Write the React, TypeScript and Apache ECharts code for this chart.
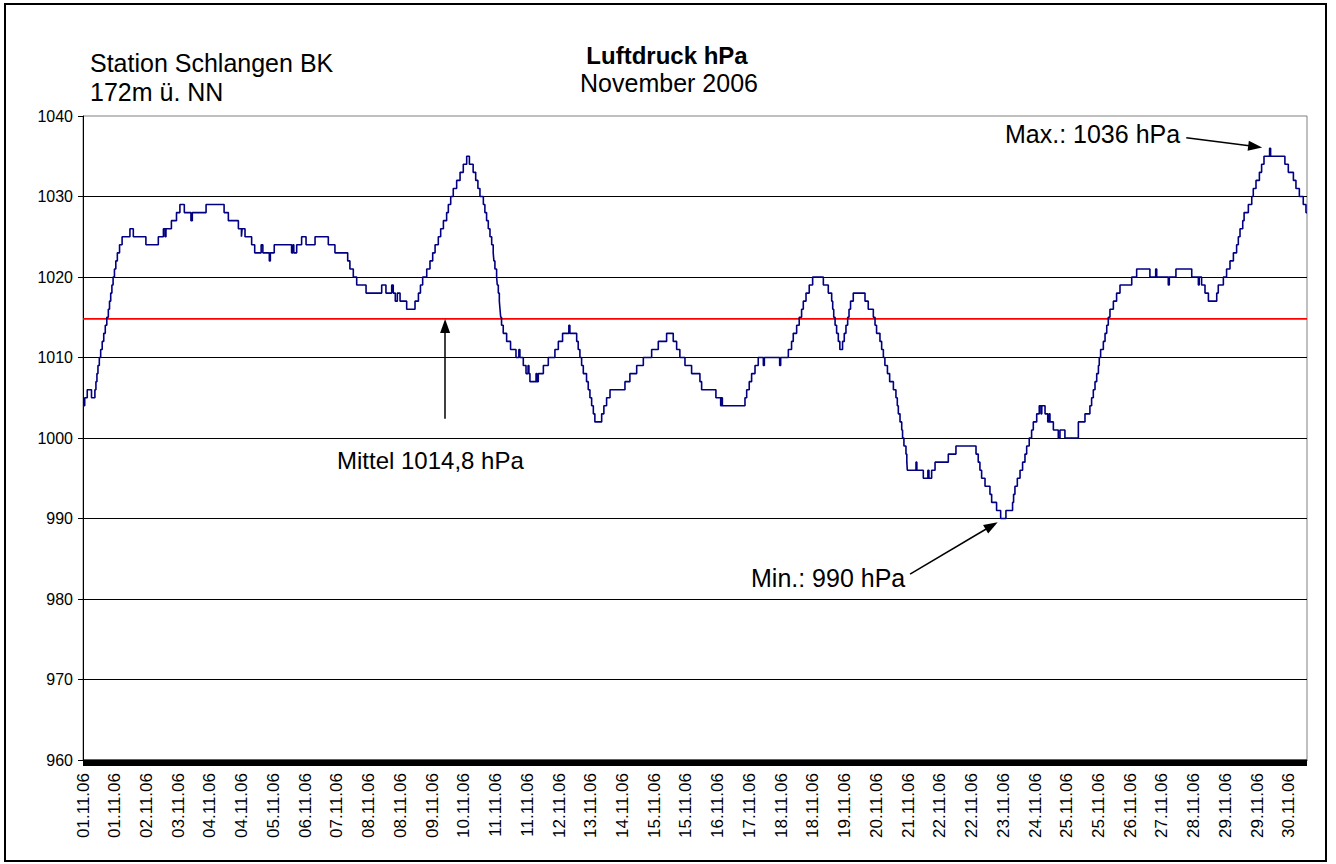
import React, { useEffect, useRef } from "react";
import * as echarts from "echarts";

// Hour of month (0 = 01.11.06 00:00) at which each pressure value begins, and the value (hPa)
const runHour = [
  0, 1, 2.5, 5, 7, 7.6, 8.2, 8.8, 9.6, 10.4, 11.3, 12.2, 13.1, 14, 14.9, 15.6, 16.3, 17, 17.7, 18.5, 19.3, 20.2, 21.5, 23,
  27.6, 29.6, 37, 44.3, 47.3, 48.3, 48.8, 52, 55, 57, 59.6, 63.5, 64.3, 72.4, 83, 85.5, 91.4, 93.2, 93.6, 95.3, 99.2, 101,
  104.8, 105.8, 109.6, 110.2, 112.5, 122.7, 123.5, 124, 125.7, 128.6, 131.2, 136.5, 144.3, 148.2, 155.7, 157, 159, 161,
  166.5, 175.7, 178.2, 181.6, 182.5, 183.7, 184.9, 186.5, 190.4, 195.3, 197.3, 198.5, 199.8, 202.2, 204.1, 205.7, 207.1,
  209, 210.4, 212, 213.9, 214.9, 216.3, 217.8, 219.8, 221.8, 223.7, 225.7, 227.3, 229.5, 231, 232.3, 233.5, 235.5, 236.4,
  237.4, 238.4, 239.4, 240.4, 241.3, 241.7, 242.3, 243.3, 243.7, 244.3, 244.9, 245.3, 245.7, 246.2, 247.2, 249.2, 251.5,
  254.7, 256.4, 257, 259, 260.6, 261.8, 262.3, 262.9, 266.5, 267, 267.8, 270.8, 273.7, 277.6, 279.6, 282.1, 285.8, 286.4,
  290.4, 291.3, 292.3, 293.3, 294.3, 296.2, 297.2, 298.2, 299.2, 300.2, 301.1, 305.1, 306.4, 308, 310, 318.8, 321.7, 325.7,
  329.6, 334.5, 338.4, 343.3, 347.2, 349.2, 351.1, 354.1, 358, 362.9, 363.9, 372.3, 375.1, 375.6, 376.1, 389.4, 390.4,
  391.9, 393.3, 395.3, 397.2, 400.2, 400.8, 409.8, 410.4, 414.9, 416.8, 417.8, 419.8, 421.3, 422.7, 423.7, 425.3, 427.2,
  429.2, 435.5, 438.4, 440.4, 441, 441.6, 442.4, 443.3, 444.3, 445.2, 446.8, 447.8, 448.8, 449.8, 450.6, 451.5, 453.1, 460,
  461.9, 464.9, 465.9, 466.8, 468.8, 469.8, 470.8, 471.7, 473.2, 474.5, 476.7, 478.2, 479, 479.6, 480.6, 481.6, 482.1,
  482.9, 484.1, 484.6, 484.9, 490, 490.5, 494.3, 497, 497.6, 499.2, 501.2, 509, 513.5, 525.3, 526.6, 527.6, 528.6, 530.6,
  533.5, 534.5, 537.4, 539.8, 542.9, 546.8, 547.4, 548.2, 549.6, 551.2, 552.7, 554.1, 555.1, 556.6, 558, 559, 561, 562.5,
  563.5, 564, 565.9, 567.5, 568.3, 568.8, 570.8, 573.7, 574.7, 577.6, 585.5, 589.4, 592.3, 593.3, 594.3, 595.3, 596.3,
  597.3, 597.8, 598.6, 600.2, 601.2, 602.2, 603.1, 604.1, 606.1, 608, 610, 616.9, 619.8, 627.6, 631, 631.6, 638.4, 639,
  642.9, 652.2, 656.1, 656.6, 658, 660, 662, 666.9, 667.8, 670.8, 672.7, 674.7, 676.7, 678.6, 679.6, 680.6, 682.2, 683,
  685.5, 687.5, 688.4, 690, 692, 693.3, 694.7, 698, 698.6, 707, 709, 712, 713.5, 715.5, 717.8, 719.4, 720,
];
const runValue = [
  1004, 1005, 1006, 1005, 1006, 1007, 1008, 1009, 1010, 1011, 1012, 1013, 1014, 1015, 1016, 1017, 1018, 1019, 1020, 1021, 1022, 1023, 1024, 1025,
  1026, 1025, 1024, 1025, 1026, 1025, 1026, 1027, 1028, 1029, 1028, 1027, 1028, 1029, 1028, 1027, 1026, 1025, 1026, 1025, 1024, 1023,
  1024, 1023, 1022, 1023, 1024, 1023, 1024, 1023, 1024, 1025, 1024, 1025, 1024, 1023, 1022, 1021, 1020, 1019,
  1018, 1019, 1018, 1019, 1018, 1017, 1018, 1017, 1016, 1017, 1018, 1019, 1020, 1021, 1022, 1023, 1024,
  1025, 1026, 1027, 1028, 1029, 1030, 1031, 1032, 1033, 1034, 1035, 1034, 1033, 1032, 1031, 1030, 1029, 1028,
  1027, 1026, 1025, 1024, 1023, 1022, 1021, 1020, 1019, 1018, 1017, 1016, 1015, 1014, 1013, 1012, 1011,
  1010, 1011, 1010, 1009, 1008, 1009, 1008, 1007, 1008, 1007, 1008, 1009, 1010, 1011, 1012, 1013, 1014, 1013,
  1012, 1011, 1010, 1009, 1008, 1007, 1006, 1005, 1004, 1003, 1002, 1003, 1004, 1005, 1006, 1007, 1008, 1009,
  1010, 1011, 1012, 1013, 1012, 1011, 1010, 1009, 1008, 1007, 1006, 1005, 1004, 1005, 1004, 1005, 1006,
  1007, 1008, 1009, 1010, 1009, 1010, 1009, 1010, 1011, 1012, 1013, 1014, 1015, 1016, 1017, 1018, 1019,
  1020, 1019, 1018, 1017, 1016, 1015, 1014, 1013, 1012, 1011, 1012, 1013, 1014, 1015, 1016, 1017, 1018, 1017,
  1016, 1015, 1014, 1013, 1012, 1011, 1010, 1009, 1008, 1007, 1006, 1005, 1004, 1003, 1002, 1001, 1000,
  999, 998, 997, 996, 997, 996, 995, 996, 995, 996, 997, 998, 999, 998, 997, 996, 995, 994,
  993, 992, 991, 990, 991, 992, 993, 994, 995, 996, 997, 998, 999, 1000, 1001, 1002, 1003, 1004,
  1003, 1004, 1003, 1002, 1003, 1002, 1001, 1000, 1001, 1000, 1002, 1003, 1004, 1005, 1006, 1007, 1008,
  1009, 1010, 1011, 1012, 1013, 1014, 1015, 1016, 1017, 1018, 1019, 1020, 1021, 1020, 1021, 1020, 1019, 1020,
  1021, 1020, 1019, 1020, 1019, 1018, 1017, 1018, 1019, 1020, 1021, 1022, 1023, 1024, 1025, 1026, 1027, 1028,
  1029, 1030, 1031, 1032, 1033, 1034, 1035, 1036, 1035, 1034, 1033, 1032, 1031, 1030, 1029, 1028, 1028,
];

// Tick labels along the time axis (one every 18 h 40 min)
const dateLabels = [
  "01.11.06", "01.11.06", "02.11.06", "03.11.06", "04.11.06", "04.11.06", "05.11.06", "06.11.06", "07.11.06",
  "08.11.06", "08.11.06", "09.11.06", "10.11.06", "11.11.06", "11.11.06", "12.11.06", "13.11.06", "14.11.06",
  "15.11.06", "15.11.06", "16.11.06", "17.11.06", "18.11.06", "18.11.06", "19.11.06", "20.11.06", "21.11.06",
  "22.11.06", "22.11.06", "23.11.06", "24.11.06", "25.11.06", "25.11.06", "26.11.06", "27.11.06", "28.11.06",
  "29.11.06", "29.11.06", "30.11.06",
];
const LABEL_STEP = 56 / 3; // hours between tick labels
const HOURS = 720;

const MEAN = 1014.8;
const MIN_VALUE = 990;
const MAX_VALUE = 1036;
// annotation arrows: [tail hour, tail value] -> [tip hour, tip value]
const meanArrow = [[213, 1002.4], [213, MEAN - 0.9]];
const minArrow = [[486.5, 983.1], [534.5, 989.1]];
const maxArrow = [[649, 1037.3], [689.5, MAX_VALUE + 0.2]];

const FONT = '"Liberation Sans", Arial, Helvetica, sans-serif';

export default function App() {
  const ref = useRef<HTMLDivElement>(null);

  useEffect(() => {
    if (!ref.current) return;
    const chart = echarts.init(ref.current, null, { renderer: "svg" });

    const pressureData = runHour.map((h, i) => [h, runValue[i]]);

    const arrowPair = (a: number[][]) => [{ coord: a[0] }, { coord: a[1] }];

    const txt = (text: string, x: number, y: number, size: number, align: string, bold = false) => ({
      type: "text",
      x,
      y,
      style: {
        text,
        fontSize: size,
        fontWeight: bold ? "bold" : "normal",
        fontFamily: FONT,
        fill: "#000",
        textAlign: align,
        textVerticalAlign: "middle",
        align,
        verticalAlign: "middle",
      },
    });

    const option: any = {
      animation: false,
      backgroundColor: "#fff",
      grid: {
        left: 83,
        top: 116,
        right: 29,
        bottom: 104,
        show: true,
        borderColor: "#808080",
        borderWidth: 1,
        backgroundColor: "transparent",
      },
      xAxis: {
        type: "value",
        min: 0,
        max: HOURS,
        interval: LABEL_STEP,
        axisLine: { show: true, lineStyle: { color: "#000", width: 1 } },
        axisTick: { show: false },
        splitLine: { show: false },
        axisLabel: {
          rotate: 90,
          margin: 13,
          color: "#000",
          fontSize: 17,
          fontFamily: FONT,
          showMaxLabel: false,
          formatter: (v: number) => {
            const idx = Math.round(v / LABEL_STEP);
            if (v > HOURS - 1) return "";
            return dateLabels[idx] ?? "";
          },
        },
      },
      yAxis: {
        type: "value",
        min: 960,
        max: 1040,
        interval: 10,
        axisLine: { show: true, lineStyle: { color: "#000", width: 1 } },
        axisTick: { show: true, length: 5, lineStyle: { color: "#000" } },
        axisLabel: {
          color: "#000",
          fontSize: 16,
          fontFamily: FONT,
          margin: 10,
          formatter: (v: number) => String(v),
        },
        splitLine: {
          show: true,
          showMinLine: false,
          showMaxLine: false,
          lineStyle: { color: "#000", width: 1 },
        },
      },
      series: [
        {
          name: "Mittel",
          type: "line",
          data: [[0, MEAN], [HOURS, MEAN]],
          showSymbol: false,
          silent: true,
          lineStyle: { color: "#ff0000", width: 1.6 },
          z: 3,
        },
        {
          name: "Luftdruck",
          type: "line",
          data: pressureData,
          step: "end",
          showSymbol: false,
          silent: true,
          lineStyle: { color: "#000080", width: 1.6 },
          z: 4,
          markLine: {
            silent: true,
            symbol: ["none", "triangle"],
            symbolSize: [10, 14],
            label: { show: false },
            lineStyle: { color: "#000", width: 1.5, type: "solid" },
            data: [arrowPair(meanArrow), arrowPair(minArrow), arrowPair(maxArrow)],
          },
        },
      ],
      graphic: [
        {
          type: "rect",
          shape: { x: 5, y: 4, width: 1321, height: 857 },
          style: { fill: "none", stroke: "#000", lineWidth: 2 },
          silent: true,
        },
        {
          type: "rect",
          shape: { x: 83, y: 759.5, width: 1224, height: 6.5 },
          style: { fill: "#000" },
          silent: true,
          z: 10,
        },
        txt("Station Schlangen BK", 90, 63, 25, "left"),
        txt("172m ü. NN", 90, 92, 25, "left"),
        txt("Luftdruck hPa", 667, 55, 24, "center", true),
        txt("November 2006", 669, 83, 25, "center"),
        txt("Mittel 1014,8 hPa", 337, 460, 24, "left"),
        txt("Min.: " + MIN_VALUE + " hPa", 751, 578, 25, "left"),
        txt("Max.: " + MAX_VALUE + " hPa", 1005, 134, 25, "left"),
      ],
    };

    chart.setOption(option);
    return () => chart.dispose();
  }, []);

  return (
    <div
      ref={ref}
      style={{ position: "absolute", left: 0, top: 0, width: 1336, height: 864, background: "#fff" }}
    />
  );
}
